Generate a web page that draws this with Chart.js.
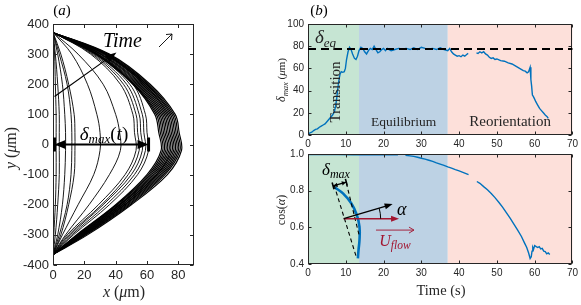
<!DOCTYPE html>
<html><head><meta charset="utf-8">
<script src="https://cdn.jsdelivr.net/npm/chart.js@4.4.1/dist/chart.umd.min.js"></script>
<style>
html,body{margin:0;padding:0;background:#fff}
#wrap{position:relative;width:581px;height:305px;overflow:hidden;background:#fff}
#wrap canvas{position:absolute;left:0;top:0}
</style></head><body>
<div id="wrap"><canvas id="ca" width="581" height="305"></canvas><canvas id="cb" width="581" height="305"></canvas><canvas id="cc" width="581" height="305"></canvas></div>
<script>
// ================= DATA =================
// (a) fibre shapes: x (um) at each y level (um)
const shapeY = [372, 300, 200, 100, 40, -20, -100, -200, -300, -365];
const earlyShapes = [
  [0, 1, 1.5, 2, 2, 2, 2, 1.5, 0.5, 0],
  [0, 1.5, 3, 4, 4, 4, 4, 3, 1.5, 0],
  [0, 3, 6, 7.5, 8, 8, 7.5, 6, 3, 0],
  [0, 4, 9, 11.5, 12, 12, 11.5, 9, 4, 0],
  [0, 5, 10, 13.5, 14, 14, 13.5, 10, 5, 0],
  [0, 12, 22, 28, 30, 30, 26, 16, 6, 0],
  [0, 16, 32, 40, 42.5, 43, 36, 23, 8, 0]
];
const middleShapes = [
  [0, 24, 43, 51, 52, 53, 46, 29, 9, 0],
  [0, 25, 45, 53, 54, 55, 48, 31, 10, 0],
  [0, 26, 47, 55, 56, 57, 50, 32, 11, 0],
  [0, 27, 49, 57, 58, 59, 52, 34, 12, 0],
  [0, 28, 51, 59, 60, 61, 54, 36, 13, 0]
];
const lateShapes = [
  [0, 27, 51, 65, 67.5, 69, 60, 40, 15, 0],
  [0, 27.5, 51.5, 66, 68.5, 70, 61, 40.5, 15.5, 0],
  [0, 28, 52, 67, 69.5, 71, 62, 41, 16, 0],
  [0, 28.5, 53, 68, 70.5, 72, 63, 42, 16.5, 0],
  [0, 29, 54, 69, 71.5, 73, 64, 42.5, 17, 0],
  [0, 30, 55, 70, 72.5, 74, 65, 43, 17.5, 0],
  [0, 30.5, 56, 71, 73.5, 75, 66, 44, 18, 0],
  [0, 31, 57, 72, 74.5, 76, 66.5, 44.5, 18.5, 0],
  [0, 32, 58, 73, 75.5, 77, 67.5, 45.5, 19, 0],
  [0, 33, 58.5, 74, 76.5, 78, 68.5, 46, 19.5, 0],
  [0, 33.5, 59.5, 75, 77.5, 79, 69.5, 47, 20, 0],
  [0, 34, 60, 76, 78.5, 80, 70.5, 48, 20.5, 0],
  [0, 35, 61, 77, 79.5, 81, 71.5, 49, 21, 0],
  [0, 36, 62, 78, 80.5, 82, 73, 50, 22, 0]
];
const shapeXTicks = [0, 20, 40, 60, 80];
const shapeYTicks = [-400, -300, -200, -100, 0, 100, 200, 300, 400];

// (b) delta_max vs time
const deltaTime = [0.2,0.5,1,1.5,2,2.5,3,3.5,4,4.5,5,5.5,6,6.5,7,7.3,7.6,7.9,8.2,8.5,8.8,9.2,9.6,9.9,10.2,10.6,11,11.4,11.8,12.3,12.7,13.1,13.5,14,14.5,15,15.5,16,16.5,17,17.5,18,18.5,19,19.5,20,20.5,21,21.5,22,23,24,25,26,27,28,29,30,31,32,33,34,35,36,37,37.5,38,38.5,39,39.5,40,40.5,41,41.5,42,42.4,43.5,44.6,45,45.5,46,46.5,47,47.5,48,48.5,49,49.5,50,51,52,53,54,55,56,57,57.5,58,58.4,58.8,59,59.2,59.4,59.6,59.9,60.3,60.8,61.3,61.8,62.3,62.8,63.3,63.6];
const deltaMax = [1,2,2.5,4,5,5.5,7,8,9,10,12,14,16,18,21,26,33,42,50,55,57,56.5,57,60,68,75,79,77,73,69,68,71,76,79,78,75,73,76,78,77,80,77,74,75,77,78,76,78,77,76,77,78,77.5,78,77,78.5,77,79,78,77.5,78,77,78.5,77,76,78,75,73,72,71,71.5,70.5,72,71,72.5,73.5,null,74,73.5,75,74,75,73,72,70,69,69.5,68,68.5,67,66.5,65,64,62,60,58,57.5,56,57,61,50,44,36,35,33,30,27,24,22,20,18,16.5,15];
const deltaEq = 77.5;

// (b) cos(alpha) vs time
const cosTime = [0,4,8,12,16,20,23.8,24.8,25.8,27,28,29,30,31,32,33,34,35,36,37,38,39,40,41,42,42.5,43.6,44.7,45.5,46.5,47.5,48.5,49.5,50.5,51.5,52.5,53.5,54.5,55.5,56.5,57.3,57.9,58.4,58.8,59.1,59.3,59.5,59.7,60,60.4,60.8,61.2,61.6,62,62.4,62.8,63.2,63.6,64];
const cosAlpha = [0.997,0.997,0.997,0.996,0.996,0.995,0.995,null,0.993,0.99,0.987,0.982,0.977,0.972,0.966,0.96,0.952,0.945,0.938,0.93,0.923,0.915,0.908,0.9,0.892,0.888,null,0.85,0.84,0.822,0.805,0.785,0.762,0.737,0.71,0.68,0.65,0.618,0.585,0.55,0.515,0.49,0.46,0.43,0.44,0.47,0.49,0.48,0.5,0.495,0.49,0.495,0.482,0.485,0.47,0.468,0.455,0.46,0.452];
// sketch of a fibre in the cos(alpha) inset
const sketchFiberT = [7.08, 9.26, 11.45, 12.93, 13.63, 13.63, 13.37, 13.2];
const sketchFiberC = [0.818, 0.785, 0.731, 0.667, 0.603, 0.531, 0.476, 0.431];

const timeTicks = [0, 10, 20, 30, 40, 50, 60, 70];
const deltaTicks = [0, 20, 40, 60, 80, 100];
const cosTicks = [0.4, 0.6, 0.8, 1];
const phaseNames = ['Transition', 'Equilibrium', 'Reorientation'];
const phaseEdges = [0, 13.5, 37, 70];

// ================= STYLE / HELPERS =================
const SERIF = '"Liberation Serif", "DejaVu Serif", serif';
const SANS = '"Liberation Sans", Arial, sans-serif';
const AXC = '#262626';
const BLUE = '#0072BD';
const RED = '#A2142F';
const phaseColors = ['#c6e5d3', '#bdd2e4', '#fde0da'];

function fnt(size, italic) { return (italic ? 'italic ' : '') + size + 'px ' + SERIF; }
function drawRuns(ctx, parts, x, y, align) {
  let w = 0;
  parts.forEach(p => { ctx.font = fnt(p[1], p[2]); w += ctx.measureText(p[0]).width; });
  let cx = align === 'center' ? x - w / 2 : (align === 'right' ? x - w : x);
  ctx.textAlign = 'left'; ctx.textBaseline = 'alphabetic';
  parts.forEach(p => { ctx.font = fnt(p[1], p[2]); ctx.fillText(p[0], cx, y + (p[3] || 0)); cx += ctx.measureText(p[0]).width; });
}
function drawRotRuns(ctx, parts, bx, cy) {
  ctx.save(); ctx.translate(bx, cy); ctx.rotate(-Math.PI / 2); drawRuns(ctx, parts, 0, 0, 'center'); ctx.restore();
}
function arrowHead(ctx, x1, y1, x2, y2, len, hw, color) {
  const a = Math.atan2(y2 - y1, x2 - x1);
  ctx.save(); ctx.fillStyle = color; ctx.beginPath();
  ctx.moveTo(x2, y2);
  ctx.lineTo(x2 - len * Math.cos(a) + hw * Math.sin(a), y2 - len * Math.sin(a) - hw * Math.cos(a));
  ctx.lineTo(x2 - len * Math.cos(a) - hw * Math.sin(a), y2 - len * Math.sin(a) + hw * Math.cos(a));
  ctx.closePath(); ctx.fill(); ctx.restore();
}
function line(ctx, x1, y1, x2, y2, color, lw, dash) {
  ctx.save(); ctx.strokeStyle = color; ctx.lineWidth = lw; ctx.setLineDash(dash || []);
  ctx.beginPath(); ctx.moveTo(x1, y1); ctx.lineTo(x2, y2); ctx.stroke(); ctx.restore();
}
function pts(xs, ys) { return xs.map((x, i) => ({ x: x, y: ys[i] })); }

const framePlugin = (tl) => ({
  id: 'frame',
  afterDatasetsDraw(chart) {
    const { ctx, chartArea: a, scales } = chart;
    const L = Math.round(a.left) + 0.5, R = Math.round(a.right) - 0.5, T = Math.round(a.top) + 0.5, B = Math.round(a.bottom) - 0.5;
    ctx.save(); ctx.strokeStyle = AXC; ctx.lineWidth = 1;
    ctx.strokeRect(L, T, R - L, B - T);
    ctx.beginPath();
    scales.x.ticks.forEach(t => { const p = Math.round(scales.x.getPixelForValue(t.value)) + 0.5; ctx.moveTo(p, B); ctx.lineTo(p, B - tl); ctx.moveTo(p, T); ctx.lineTo(p, T + tl); });
    scales.y.ticks.forEach(t => { const p = Math.round(scales.y.getPixelForValue(t.value)) + 0.5; ctx.moveTo(L, p); ctx.lineTo(L + tl, p); ctx.moveTo(R, p); ctx.lineTo(R - tl, p); });
    ctx.stroke(); ctx.restore();
  }
});
const phasePlugin = {
  id: 'phases',
  beforeDatasetsDraw(chart) {
    const { ctx, chartArea: a, scales: { x } } = chart;
    ctx.save();
    for (let i = 0; i < phaseNames.length; i++) {
      const x1 = x.getPixelForValue(phaseEdges[i]), x2 = x.getPixelForValue(phaseEdges[i + 1]);
      ctx.fillStyle = phaseColors[i]; ctx.fillRect(x1, a.top, x2 - x1, a.bottom - a.top);
    }
    ctx.restore();
  }
};

function makeOptions(o) {
  return {
    responsive: false, animation: false, devicePixelRatio: 1, events: [],
    layout: { padding: o.pad },
    plugins: { legend: { display: false }, tooltip: { enabled: false } },
    elements: { point: { radius: 0 } },
    scales: {
      x: {
        type: 'linear', min: o.xMin, max: o.xMax,
        afterBuildTicks: s => { s.ticks = o.xT.map(v => ({ value: v })); },
        afterFit: s => { s.height = o.xH; },
        grid: { display: false, drawTicks: false }, border: { display: false },
        ticks: { font: { family: SANS, size: o.fs }, color: AXC, padding: o.xPad, maxRotation: 0, autoSkip: false }
      },
      y: {
        type: 'linear', min: o.yMin, max: o.yMax,
        afterBuildTicks: s => { s.ticks = o.yT.map(v => ({ value: v })); },
        afterFit: s => { s.width = o.yW; },
        grid: { display: false, drawTicks: false }, border: { display: false },
        ticks: { font: { family: SANS, size: o.fs }, color: AXC, padding: o.yPad, autoSkip: false }
      }
    }
  };
}

// ================= CHART (a) =================
const shapeSets = [];
[[earlyShapes, 0.9], [middleShapes, 0.9], [lateShapes, 1.15]].forEach(([group, lw]) => group.forEach(xs => {
  shapeSets.push({ data: pts(xs, shapeY), borderColor: '#000', borderWidth: lw, showLine: true, tension: 0.35, fill: false, pointRadius: 0 });
}));
const annotA = {
  id: 'annotA',
  afterDraw(chart) {
    const { ctx, scales: { x, y } } = chart;
    ctx.save(); ctx.fillStyle = '#000';
    drawRuns(ctx, [['(', 15, false], ['a', 15, true], [')', 15, false]], 62, 15, 'center');
    ctx.fillStyle = AXC;
    drawRuns(ctx, [['x', 16, true], [' (', 16, false], ['\u03bc', 16, true], ['m)', 16, false]], 124, 297, 'center');
    drawRotRuns(ctx, [['y', 16, true], [' (', 16, false], ['\u03bc', 16, true], ['m)', 16, false]], 16, 148);
    ctx.fillStyle = '#000';
    const y0 = y.getPixelForValue(0), xa = x.getPixelForValue(0) + 1.5, xb = x.getPixelForValue(61);
    line(ctx, xa + 6, y0, xb - 6, y0, '#000', 2.2);
    arrowHead(ctx, xb, y0, xa, y0, 11, 4.5, '#000');
    arrowHead(ctx, xa, y0, xb, y0, 11, 4.5, '#000');
    line(ctx, xa, y0 - 7, xa, y0 + 7, '#000', 3);
    line(ctx, xb, y0 - 7, xb, y0 + 7, '#000', 3);
    drawRuns(ctx, [['\u03b4', 19, true], ['max', 13, true, 3], ['(', 19, false], ['t', 19, true], [')', 19, false]], 104, y0 - 5, 'center');
    const t1x = x.getPixelForValue(1), t1y = y.getPixelForValue(159), t2x = x.getPixelForValue(40.5), t2y = y.getPixelForValue(305);
    line(ctx, t1x, t1y, t2x - 6, t2y + 4, '#000', 1.2);
    arrowHead(ctx, t1x, t1y, t2x, t2y, 11, 4, '#000');
    drawRuns(ctx, [['Time', 20, true]], 103, 47, 'left');
    line(ctx, 159, 47, 172, 34, '#000', 0.9);
    line(ctx, 172, 34, 166, 34.5, '#000', 0.9);
    line(ctx, 172, 34, 171.5, 40, '#000', 0.9);
    ctx.restore();
  }
};
new Chart(document.getElementById('ca'), {
  type: 'scatter',
  data: { datasets: shapeSets },
  options: makeOptions({ pad: { left: 0, right: 387, top: 24, bottom: 0 }, xMin: 0, xMax: 90, xT: shapeXTicks, yMin: -400, yMax: 400, yT: shapeYTicks, fs: 13, yW: 53, xH: 40, xPad: 3, yPad: 4 }),
  plugins: [framePlugin(3.5), annotA]
});

// ================= CHART (b) top =================
const annotB = {
  id: 'annotB',
  afterDatasetsDraw(chart) {
    const { ctx, chartArea: a, scales: { x, y } } = chart;
    ctx.save();
    const ye = y.getPixelForValue(deltaEq);
    line(ctx, a.left, ye, a.right, ye, '#000', 2, [8, 5]);
    ctx.fillStyle = AXC;
    drawRuns(ctx, [['\u03b4', 19, true], ['eq', 13, true, 4]], 315, 43, 'left');
    drawRotRuns(ctx, [[phaseNames[0], 15, false]], 340, 92);
    drawRuns(ctx, [[phaseNames[1], 13.5, false]], x.getPixelForValue(25.3), 126, 'center');
    drawRuns(ctx, [[phaseNames[2], 15, false]], x.getPixelForValue(53.5), 126, 'center');
    ctx.fillStyle = '#000';
    drawRuns(ctx, [['(', 15, false], ['b', 15, true], [')', 15, false]], 319, 15, 'center');
    ctx.fillStyle = AXC;
    drawRotRuns(ctx, [['\u03b4', 12, true], ['max', 8.5, true, 2.5], [' (', 11, false], ['\u03bc', 11, true], ['m)', 11, false]], 285, 80);
    ctx.restore();
  }
};
new Chart(document.getElementById('cb'), {
  type: 'scatter',
  data: { datasets: [{ data: pts(deltaTime, deltaMax), borderColor: BLUE, borderWidth: 1.4, showLine: true, spanGaps: false, tension: 0, pointRadius: 0 }] },
  options: makeOptions({ pad: { left: 268, right: 6, top: 24, bottom: 153 }, xMin: 0, xMax: 70, xT: timeTicks, yMin: 0, yMax: 100, yT: deltaTicks, fs: 10, yW: 40, xH: 17, xPad: 3, yPad: 4 }),
  plugins: [phasePlugin, framePlugin(3), annotB]
});

// ================= CHART (b) bottom =================
const annotC = {
  id: 'annotC',
  afterDatasetsDraw(chart) {
    const { ctx, scales: { x, y } } = chart;
    const P = (t, v) => [x.getPixelForValue(t), y.getPixelForValue(v)];
    ctx.save();
    let p1 = P(6.9, 0.831), p2 = P(12.76, 0.44);
    line(ctx, p1[0], p1[1], p2[0], p2[1], '#000', 1.1, [4, 3]);
    p1 = P(10.15, 0.842); p2 = P(13.5, 0.56);
    line(ctx, p1[0], p1[1], p2[0], p2[1], '#000', 1.1, [4, 3]);
    p1 = P(6.64, 0.826); p2 = P(10.15, 0.846);
    line(ctx, p1[0], p1[1], p2[0], p2[1], '#000', 1.3);
    const ang = Math.atan2(p2[1] - p1[1], p2[0] - p1[0]);
    const nx = -Math.sin(ang) * 3.5, ny = Math.cos(ang) * 3.5;
    line(ctx, p1[0] - nx, p1[1] - ny, p1[0] + nx, p1[1] + ny, '#000', 1.6);
    line(ctx, p2[0] - nx, p2[1] - ny, p2[0] + nx, p2[1] + ny, '#000', 1.6);
    arrowHead(ctx, p2[0], p2[1], p1[0] + 0.5, p1[1], 4, 2.2, '#000');
    arrowHead(ctx, p1[0], p1[1], p2[0] - 0.5, p2[1], 4, 2.2, '#000');
    ctx.fillStyle = '#000';
    drawRuns(ctx, [['\u03b4', 17, true], ['max', 12, true, 3]], 336, 175, 'center');
    const o = P(9.44, 0.647), rEnd = P(24.1, 0.647), bEnd = P(22.4, 0.727);
    line(ctx, o[0], o[1], rEnd[0] - 6, rEnd[1], RED, 1.5);
    arrowHead(ctx, o[0], o[1], rEnd[0], rEnd[1], 8, 3, RED);
    line(ctx, o[0], o[1], bEnd[0] - 5, bEnd[1] + 1.5, '#000', 1.3);
    arrowHead(ctx, o[0], o[1], bEnd[0], bEnd[1], 8, 3, '#000');
    const ba = Math.atan2(bEnd[1] - o[1], bEnd[0] - o[0]);
    ctx.strokeStyle = '#000'; ctx.lineWidth = 1; ctx.beginPath(); ctx.arc(o[0], o[1], 37, ba, 0); ctx.stroke();
    drawRuns(ctx, [['\u03b1', 18, true]], 397, 215, 'left');
    const u1 = P(18.0, 0.585), u2 = P(28.05, 0.585);
    line(ctx, u1[0], u1[1], u2[0], u2[1], RED, 0.9);
    line(ctx, u2[0], u2[1], u2[0] - 5, u2[1] - 3, RED, 0.9);
    line(ctx, u2[0], u2[1], u2[0] - 5, u2[1] + 3, RED, 0.9);
    ctx.fillStyle = RED;
    drawRuns(ctx, [['U', 16, true], ['flow', 11.5, true, 3]], (u1[0] + u2[0]) / 2, 246, 'center');
    ctx.fillStyle = AXC;
    drawRuns(ctx, [['Time (s)', 14.5, false]], 441, 295, 'center');
    drawRotRuns(ctx, [['cos(', 12, false], ['\u03b1', 12, true], [')', 12, false]], 285, 210);
    ctx.restore();
  }
};
new Chart(document.getElementById('cc'), {
  type: 'scatter',
  data: { datasets: [
    { data: pts(cosTime, cosAlpha), borderColor: BLUE, borderWidth: 1.4, showLine: true, spanGaps: false, tension: 0, pointRadius: 0 },
    { data: pts(sketchFiberT, sketchFiberC), borderColor: BLUE, borderWidth: 2.6, showLine: true, tension: 0.4, pointRadius: 0 }
  ] },
  options: makeOptions({ pad: { left: 268, right: 6, top: 154, bottom: 0 }, xMin: 0, xMax: 70, xT: timeTicks, yMin: 0.4, yMax: 1, yT: cosTicks, fs: 10, yW: 40, xH: 41, xPad: 3, yPad: 4 }),
  plugins: [phasePlugin, framePlugin(3), annotC]
});
</script></body></html>
